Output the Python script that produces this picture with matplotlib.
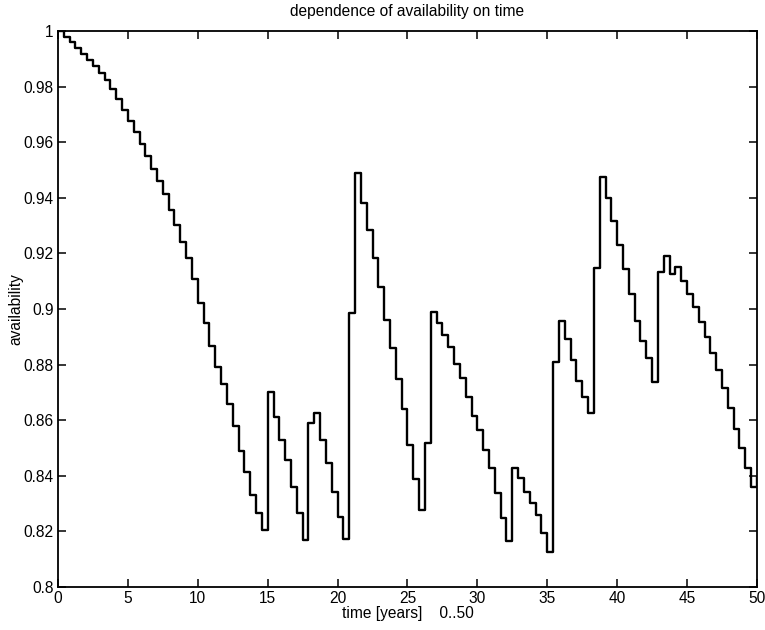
import numpy as np
import matplotlib
matplotlib.use('Agg')
from matplotlib import pyplot as plt

# availability level for each 5-month step
step_years = 5 / 12
availability = [
    1.0, 0.998, 0.996, 0.994, 0.9919, 0.9897, 0.9874, 0.985, 0.9822, 0.9792,
    0.9755, 0.9716, 0.9676, 0.9635, 0.9593, 0.955, 0.9505, 0.946, 0.9415,
    0.9356, 0.9302, 0.9242, 0.9185, 0.9107, 0.9023, 0.8949, 0.8867, 0.8793,
    0.873, 0.8658, 0.858, 0.849, 0.8415, 0.8331, 0.8265, 0.8205,
    0.8703, 0.8613, 0.8529, 0.8457, 0.8361, 0.8265, 0.8169,
    0.8589, 0.8625, 0.8529, 0.8445, 0.8343, 0.8253, 0.8172,
    0.8985, 0.949, 0.938, 0.9284, 0.9184, 0.908, 0.8962, 0.8859, 0.8747,
    0.8639, 0.8511, 0.8387, 0.8277, 0.8517,
    0.899, 0.8949, 0.8907, 0.8864, 0.8802, 0.8751, 0.8682, 0.8615, 0.8565,
    0.8493, 0.8427, 0.8339, 0.8249, 0.8167,
    0.8427, 0.8391, 0.8343, 0.8301, 0.8259, 0.8193, 0.8127,
    0.881, 0.8955, 0.8893, 0.8818, 0.8742, 0.8685, 0.8625,
    0.9146, 0.9476, 0.94, 0.9317, 0.923, 0.9143, 0.9054, 0.8958, 0.8885,
    0.8823, 0.8739,
    0.9134, 0.9191, 0.9126, 0.915, 0.9101, 0.9054, 0.9008, 0.8954, 0.89,
    0.8841, 0.8781, 0.8717, 0.8643, 0.8567, 0.8499, 0.8427, 0.8359,
]
end_value = 0.8397

x_ticks = [0, 5, 10, 15, 20, 25, 30, 35, 40, 45, 50]
y_ticks = [0.8, 0.82, 0.84, 0.86, 0.88, 0.9, 0.92, 0.94, 0.96, 0.98, 1.0]
y_tick_labels = ['0.8', '0.82', '0.84', '0.86', '0.88', '0.9', '0.92',
                 '0.94', '0.96', '0.98', '1']

plt.rcParams['font.family'] = ['Liberation Sans', 'DejaVu Sans']

t = np.arange(len(availability) + 1) * step_years
y = availability + [end_value]

fig = plt.figure(figsize=(7.65, 6.3), dpi=100)
ax = fig.add_axes([0.0758, 0.0683, 0.9137, 0.8825])
ax.step(t, y, where='post', color='black', linewidth=1.7)

ax.set_xlim(0, 50)
ax.set_ylim(0.8, 1.0)
ax.set_xticks(x_ticks)
ax.set_yticks(y_ticks)
ax.set_yticklabels(y_tick_labels)
ax.tick_params(direction='in', top=True, right=True, length=6, width=1.1,
               labelsize=11.2, pad=3)
for s in ax.spines.values():
    s.set_linewidth(1.3)

ax.set_title('dependence of availability on time', fontsize=11.2, pad=11)
ax.set_xlabel('time [years]    0..50', fontsize=11.2, labelpad=0)
ax.set_ylabel('availability', fontsize=11.2, labelpad=0)

plt.savefig('out.png', dpi=100)
